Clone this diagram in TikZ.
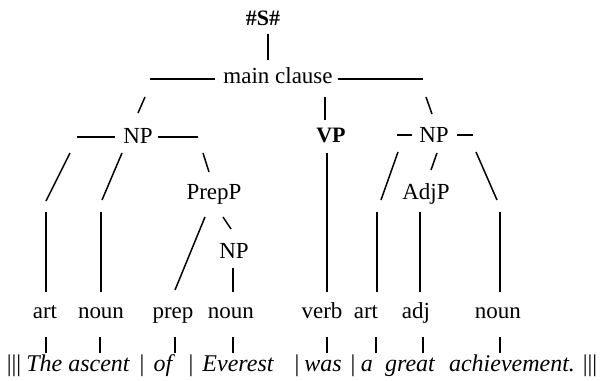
\documentclass[tikz,border=0pt]{standalone}
\usepackage{fontspec}
\setmainfont{Liberation Serif}
\begin{document}
\begin{tikzpicture}[x=0.5pt,y=-0.5pt,
  every node/.style={inner sep=0pt,anchor=base,font=\fontsize{11.5}{13}\selectfont},
  wd/.style={font=\fontsize{12}{14}\selectfont\itshape},
  sep/.style={font=\fontsize{12}{14}\selectfont},
  ln/.style={line width=0.75pt}]
\useasboundingbox (0,0) rectangle (602,381);

 % phrases
 \node[font=\fontsize{11}{13}\selectfont\bfseries] (s) at (263,25) {\#S\#};
 \node (mc) at (278,83) {main clause};
 \node (np1) at (138,143) {NP};
 \node[font=\fontsize{11}{13}\selectfont\bfseries] (vp) at (331,142) {VP};
 \node (np2) at (434,142) {NP};
 \node (prepp) at (214,199) {PrepP};
 \node (adjp) at (426,199) {AdjP};
 \node (np3) at (234,258) {NP};

 % word classes
 \node (art1) at (45,318) {art};
 \node (noun1) at (101,318) {noun};
 \node (prep) at (173,318) {prep};
 \node (noun2) at (231,318) {noun};
 \node (verb) at (322,318) {verb};
 \node (art2) at (366,318) {art};
 \node (adj) at (416,318) {adj};
 \node (noun3) at (498,318) {noun};

 % sentence
 \node[sep] (b0) at (14,371) {|||};
 \node[wd] (w1) at (78,371) {The ascent};
 \node[sep] (b1) at (142,371) {|};
 \node[wd] (w2) at (163,371) {of};
 \node[sep] (b2) at (191,371) {|};
 \node[wd] (w3) at (238,371) {Everest};
 \node[sep] (b3) at (297,371) {|};
 \node[wd] (w4) at (323,371) {was};
 \node[sep] (b4) at (353,371) {|};
 \node[wd] (w5) at (367,371) {a};
 \node[wd] (w6) at (410,371) {great};
 \node[wd] (w7) at (512,371) {achievement.};
 \node[sep] (b5) at (590,371) {|||};

 % top
 \draw[ln] (268,34) -- (268,60);
 \draw[ln] (150,79) -- (215,79);
 \draw[ln] (338,79) -- (423,79);
 \draw[ln] (145,97) -- (138,113);
 \draw[ln] (325,97) -- (325,120);
 \draw[ln] (426,97) -- (432,114);

 % left NP
 \draw[ln] (77,137) -- (115,137);
 \draw[ln] (158,137) -- (198,137);
 \draw[ln] (70,153) -- (46,201);
 \draw[ln] (46,212) -- (46,292);
 \draw[ln] (122,153) -- (102,200);
 \draw[ln] (101,212) -- (101,292);
 \draw[ln] (203,153) -- (209,172);
 \draw[ln] (205,217) -- (175,290);
 \draw[ln] (223,217) -- (231,229);
 \draw[ln] (233,268) -- (233,292);

 % VP
 \draw[ln] (327,153) -- (327,292);

 % right NP
 \draw[ln] (397,135) -- (412,135);
 \draw[ln] (457,135) -- (473,135);
 \draw[ln] (398,152) -- (381,200);
 \draw[ln] (377,212) -- (377,292);
 \draw[ln] (437,153) -- (431,170);
 \draw[ln] (420,212) -- (420,292);
 \draw[ln] (476,152) -- (497,200);
 \draw[ln] (500,212) -- (500,292);

 % down to the words
 \foreach \x in {46,100,175,233,327,376,423,500}
   \draw[ln] (\x,337) -- (\x,353);
\end{tikzpicture}
\end{document}
